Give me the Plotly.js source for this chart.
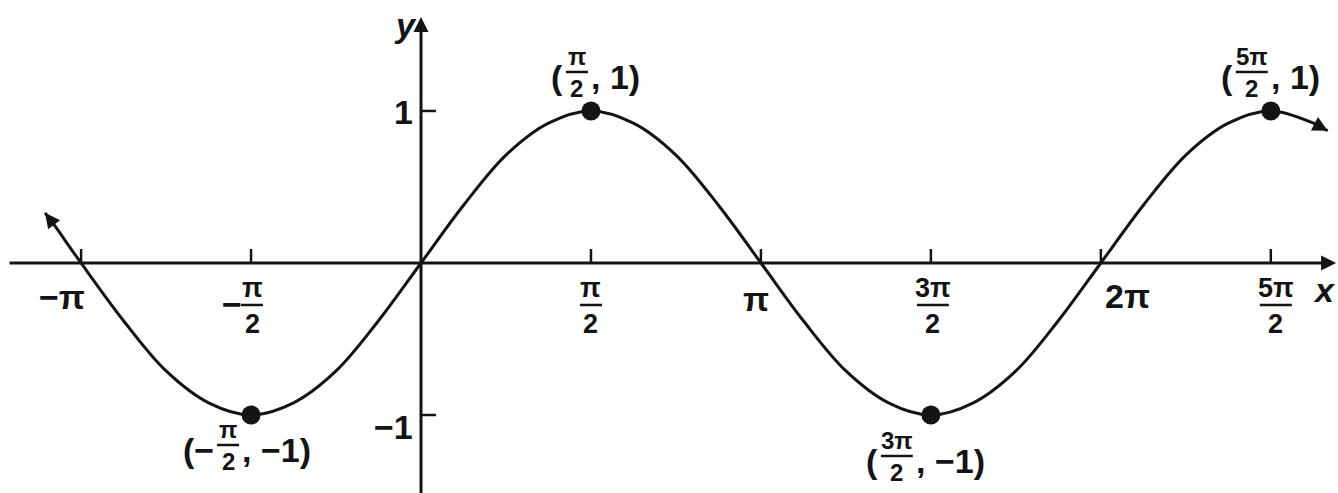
<!DOCTYPE html>
<html>
<head>
<meta charset="utf-8">
<script src="https://cdn.plot.ly/plotly-3.0.1.min.js"></script>
<style>
  html, body { margin: 0; padding: 0; background: #fff; }
  #chart { width: 1338px; height: 493px; }
</style>
</head>
<body>
<div id="chart"></div>
<script>
// Sampled points of y = sin x over the drawn stretch of the curve
const curveX = [-3.475, -3.40, -3.142, -2.749, -2.356, -1.963, -1.571, -1.178, -0.785, -0.393,
                0, 0.393, 0.785, 1.178, 1.571, 1.963, 2.356, 2.749, 3.142, 3.534,
                3.927, 4.320, 4.712, 5.105, 5.498, 5.890, 6.283, 6.676, 7.069, 7.461,
                7.854, 8.247, 8.30, 8.38];
const curveY = [0.33, 0.26, 0, -0.38, -0.71, -0.92, -1, -0.92, -0.71, -0.38,
                0, 0.38, 0.71, 0.92, 1, 0.92, 0.71, 0.38, 0, -0.38,
                -0.71, -0.92, -1, -0.92, -0.71, -0.38, 0, 0.38, 0.71, 0.92,
                1, 0.92, 0.90, 0.87];

// Marked extrema and their labels
const pointX = [-1.5708, 1.5708, 4.7124, 7.854];
const pointY = [-1, 1, -1, 1];
const pointText = ['(−π/2, −1)', '(π/2, 1)', '(3π/2, −1)', '(5π/2, 1)'];

// Axis ticks
const xTickVals = [-3.1416, -1.5708, 1.5708, 3.1416, 4.7124, 6.2832, 7.854];
const xTickText = ['−π', '−π/2', 'π/2', 'π', '3π/2', '2π', '5π/2'];
const yTickVals = [1, -1];
const yTickText = ['1', '−1'];

// ---- styling ----
const INK = '#141414';
const FONT = '"Liberation Sans Narrow", "Liberation Sans", Arial, sans-serif';
const BIG = 34, SMALL = 27, LABEL_FRAC = 24;
const X_RANGE = [-3.891, 8.475];
const Y_RANGE = [-1.513, 1.730];
const X_AXIS_ENDS = [-3.817, 8.457];
const Y_AXIS_ENDS = [-1.53, 1.618];

// label offsets in pixels (dx right, dy down), keyed by tick / point index
const xTickStyle = [
  {dx: -19, dy: 34}, {dx: 1, dy: 0, signDx: -20}, {dx: 0, dy: 0}, {dx: -5, dy: 36},
  {dx: 2, dy: 0}, {dx: 27, dy: 33}, {dx: 5, dy: 0}
];
const pointStyle = [
  {dx: -23, dy: 35, barW: 22}, {dx: -14, dy: -34, barW: 22},
  {dx: -34, dy: 46, barW: 32}, {dx: -19, dy: -34, barW: 32}
];

const annotations = [];
const shapes = [];

function txt(x, y, dx, dy, text, size, anchor, extra) {
  annotations.push(Object.assign({
    x: x, y: y, xref: 'x', yref: 'y', text: text, showarrow: false,
    xanchor: anchor || 'center', yanchor: 'middle', xshift: dx, yshift: -dy,
    font: {family: FONT, size: size, color: INK, weight: 'bold'}
  }, extra || {}));
}

function bar(x, y, dx, dy, w) {
  shapes.push({
    type: 'line', xref: 'x', yref: 'y', xsizemode: 'pixel', ysizemode: 'pixel',
    xanchor: x, yanchor: y, x0: dx - w / 2, x1: dx + w / 2, y0: -dy, y1: -dy,
    line: {color: INK, width: 2.5}
  });
}

// stacked fraction centred at (dx, dyBar) around a data point
function fraction(x, y, dx, dyBar, num, den, size, w) {
  txt(x, y, dx, dyBar - size * 0.64, num, size);
  bar(x, y, dx, dyBar, w);
  txt(x, y, dx, dyBar + size * 0.70, den, size);
}

// x-axis ticks and labels
xTickVals.forEach((v, i) => {
  shapes.push({
    type: 'line', xref: 'x', yref: 'y', x0: v, x1: v, ysizemode: 'pixel', yanchor: 0,
    y0: 0, y1: 14, line: {color: INK, width: 2.5}
  });
  const s = xTickStyle[i];
  const m = xTickText[i].match(/^(−?)(.+)\/(.+)$/);
  if (m) {
    const w = m[2].length > 1 ? 32 : 22;
    if (m[1]) txt(v, 0, s.dx + s.signDx, 41, m[1], BIG);
    fraction(v, 0, s.dx, 42, m[2], m[3], SMALL, w);
  } else {
    txt(v, 0, s.dx, s.dy, xTickText[i], BIG);
  }
});

// y-axis ticks and labels
yTickVals.forEach((v, i) => {
  shapes.push({
    type: 'line', xref: 'x', yref: 'y', y0: v, y1: v, xsizemode: 'pixel', xanchor: 0,
    x0: 0, x1: 15, line: {color: INK, width: 2.5}
  });
  txt(0, v, -6, v > 0 ? 1 : 12, yTickText[i], BIG, 'right');
});

// point labels "(num/den, value)"
pointText.forEach((t, i) => {
  const m = t.match(/^\((−?)(.+)\/(\d+), (.+)\)$/);
  const s = pointStyle[i];
  const half = s.barW / 2;
  txt(pointX[i], pointY[i], s.dx - half - 1, s.dy, '(' + m[1], BIG, 'right');
  fraction(pointX[i], pointY[i], s.dx, s.dy - 5, m[2], m[3], LABEL_FRAC, s.barW);
  txt(pointX[i], pointY[i], s.dx + half + 1, s.dy, ', ' + m[4] + ')', BIG, 'left');
});

// axes with arrowheads
function arrow(x0, y0, x1, y1, width) {
  annotations.push({
    x: x1, y: y1, ax: x0, ay: y0, xref: 'x', yref: 'y', axref: 'x', ayref: 'y',
    text: '', showarrow: true, arrowhead: 2, arrowsize: 1, arrowwidth: width,
    arrowcolor: INK, standoff: 0, startstandoff: 0
  });
}
arrow(X_AXIS_ENDS[0], 0, X_AXIS_ENDS[1], 0, 3);
arrow(0, Y_AXIS_ENDS[0], 0, Y_AXIS_ENDS[1], 3);

// arrowheads at both ends of the curve
const n = curveX.length;
arrow(curveX[1], curveY[1], curveX[0], curveY[0], 3);
arrow(curveX[n - 2], curveY[n - 2], curveX[n - 1], curveY[n - 1], 3);

// axis names
const italic = {font: {family: FONT, size: BIG, color: INK, style: 'italic', weight: 'bold'}};
txt(0, Y_AXIS_ENDS[1], -16, 8, 'y', BIG, 'center', italic);
txt(X_AXIS_ENDS[1], 0, -12, 27, 'x', BIG, 'center', italic);

const traces = [
  {
    x: curveX, y: curveY, type: 'scatter', mode: 'lines',
    line: {color: INK, width: 3, shape: 'spline', smoothing: 1},
    hoverinfo: 'skip'
  },
  {
    x: pointX, y: pointY, type: 'scatter', mode: 'markers',
    marker: {color: INK, size: 19},
    hoverinfo: 'skip'
  }
];

const layout = {
  width: 1338, height: 493,
  margin: {l: 0, r: 0, t: 0, b: 0},
  paper_bgcolor: '#ffffff', plot_bgcolor: '#ffffff',
  showlegend: false,
  xaxis: {range: X_RANGE, visible: false, fixedrange: true},
  yaxis: {range: Y_RANGE, visible: false, fixedrange: true},
  shapes: shapes,
  annotations: annotations
};

Plotly.newPlot('chart', traces, layout, {staticPlot: true});
</script>
</body>
</html>
